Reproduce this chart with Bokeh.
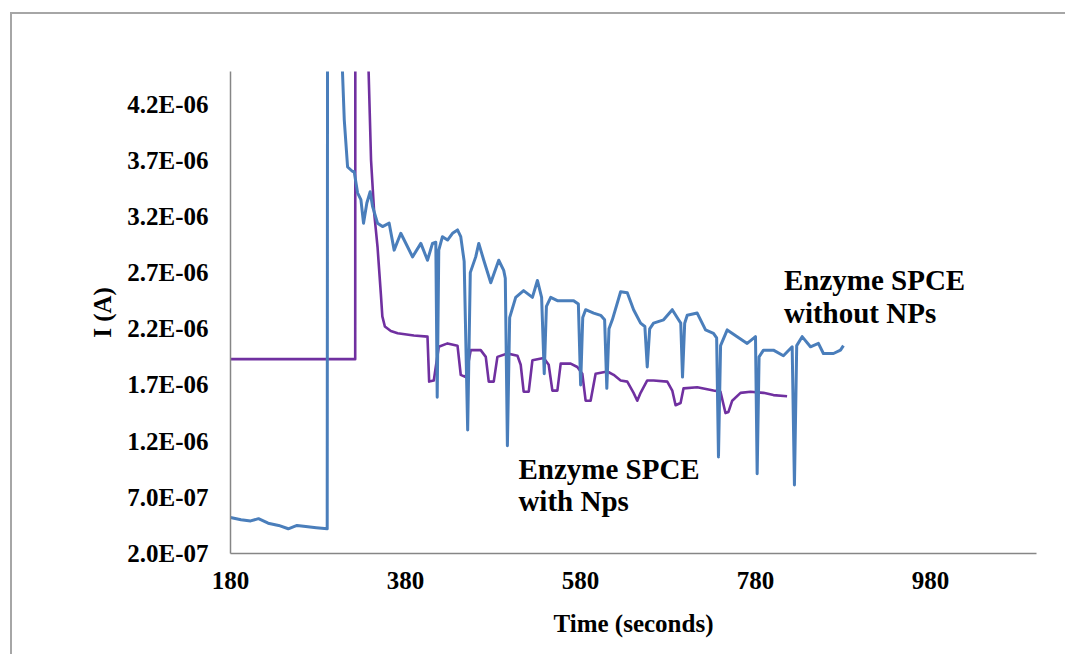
from bokeh.plotting import figure
from bokeh.models import FixedTicker, CustomJSTickFormatter, Range1d, Label
from bokeh.embed import file_html
from bokeh.resources import INLINE

# Amperometric response, enzyme SPCE without nanoparticles (time in s, current in µA)
t_without_nps = [180, 192, 203, 212, 223, 235, 246, 256, 266, 278, 290.5, 291, 305.5,
                 310, 313.8, 319.5, 321.3, 325.2, 329, 332, 335.8, 339.6, 342.3, 348,
                 353.7, 361.3, 367, 374.6, 382.3, 388, 397.5, 405.1, 410.8, 414.6, 416.2,
                 418, 422.2, 428, 433.7, 439.4, 443.1, 447, 451, 454, 460.2, 463.7, 469.4,
                 477.4, 486.5, 492.2, 494, 496.4, 499, 505.9, 514.9, 525, 530.7, 535.5,
                 538.5, 541, 545.9, 553.5, 560.7, 572.1, 577.5, 580.1, 582.5, 585.8, 595,
                 603, 607.5, 610, 612.5, 616.3, 625.8, 633.4, 640.6, 648.6, 653.5, 656.2,
                 659, 663.4, 674.9, 684.8, 692, 694.5, 696.5, 699, 701.9, 713.3, 722.8,
                 731.9, 735.5, 737.6, 740, 747.6, 759, 770.4, 779.9, 781.8, 784, 789,
                 800.4, 811.8, 821.8, 824.4, 827, 833.2, 842.7, 851.8, 857.5, 869, 877,
                 880.4]
i_without_nps_ua = [0.52, 0.50, 0.49, 0.51, 0.47, 0.45, 0.42, 0.45, 0.44, 0.43, 0.42, 6.0, 5.0,
                    4.06, 3.64, 3.60, 3.60, 3.41, 3.35, 3.14, 3.32, 3.42, 3.29, 3.14,
                    3.11, 3.14, 2.90, 3.05, 2.93, 2.84, 2.96, 2.81, 2.96, 2.97, 1.59,
                    2.90, 3.02, 2.99, 3.05, 3.08, 3.02, 2.80, 1.30, 2.70, 2.84, 2.96, 2.81,
                    2.61, 2.81, 2.72, 2.65, 1.16, 2.30, 2.48, 2.54, 2.48, 2.63, 2.48,
                    1.80, 2.40, 2.48, 2.45, 2.45, 2.45, 2.42, 1.70, 2.30, 2.37, 2.34,
                    2.32, 2.28, 1.67, 2.20, 2.28, 2.53, 2.52, 2.37, 2.25, 2.22, 1.86,
                    2.20, 2.25, 2.28, 2.37, 2.28, 2.25, 1.77, 2.25, 2.32, 2.34, 2.19,
                    2.16, 2.12, 1.06, 2.05, 2.19, 2.13, 2.07, 2.13, 0.91, 1.95, 2.01,
                    2.01, 1.96, 2.04, 0.81, 2.05, 2.13, 2.04, 2.07, 1.98, 1.98, 2.01,
                    2.05]

# Amperometric response, enzyme SPCE with nanoparticles (time in s, current in µA)
t_with_nps = [180, 322.5, 322.7, 336, 340.6, 344.2, 348, 351.8, 353.5, 356.4, 363.2, 371,
              389.5, 405.1, 407, 412.3, 418, 428, 439.4, 443.1, 448.8, 454.5, 465.9,
              471.7, 475.1, 480.8, 485, 496.4, 507.9, 511.6, 515, 520.8, 525, 537.9,
              543.6, 547.8, 553.5, 557.3, 568.7, 576.3, 582, 585.8, 591.5, 597.2, 610.6,
              617.8, 625.8, 633.4, 640.6, 644.8, 648.6, 656.2, 663.4, 679.1, 684.8,
              688.6, 694.3, 697.7, 713.3, 731.9, 739.9, 745.6, 749, 753.3, 762.8,
              774.2, 789, 800.4, 816]
i_with_nps_ua = [1.93, 1.93, 6.0, 5.0, 3.70, 3.23, 2.93, 2.51, 2.31, 2.22, 2.18, 2.16,
                 2.14, 2.13, 1.73, 1.74, 2.04, 2.07, 2.05, 1.79, 1.77, 2.01, 2.01,
                 1.95, 1.73, 1.73, 1.95, 1.98, 1.96, 1.88, 1.64, 1.64, 1.92, 1.94,
                 1.88, 1.65, 1.65, 1.89, 1.89, 1.86, 1.80, 1.56, 1.56, 1.80, 1.82,
                 1.79, 1.74, 1.73, 1.63, 1.56, 1.63, 1.74, 1.74, 1.73, 1.65,
                 1.52, 1.54, 1.67, 1.68, 1.65, 1.64, 1.45, 1.46, 1.56, 1.63,
                 1.64, 1.63, 1.61, 1.60]

x_ticks = [180, 380, 580, 780, 980]
y_ticks = [2.0e-7, 7.0e-7, 1.2e-6, 1.7e-6, 2.2e-6, 2.7e-6, 3.2e-6, 3.7e-6, 4.2e-6]

FONT = "Liberation Serif"
BLUE = "#4a7ebb"
PURPLE = "#7030a0"
AXIS_GREY = "#868686"
FRAME_GREY = "#a6a6a6"

# transparent canvas over a white page element that carries the grey picture
# frame (top and left edges) as two thin background strips
p = figure(width=1065, height=654, output_backend="svg", toolbar_location=None,
           x_range=Range1d(180, 1101), y_range=Range1d(2.0e-7, 4.49e-6),
           min_border_left=230, min_border_right=29, min_border_top=71,
           min_border_bottom=101, background_fill_color=None,
           border_fill_color=None)
p.styles = {
    "background-color": "white",
    "background-image": f"linear-gradient({FRAME_GREY}, {FRAME_GREY}), "
                        f"linear-gradient({FRAME_GREY}, {FRAME_GREY})",
    "background-position": "10px 12px, 10px 12px",
    "background-size": "1060px 2px, 2px 650px",
    "background-repeat": "no-repeat",
}

p.xgrid.visible = False
p.ygrid.visible = False
p.outline_line_color = None

p.line(t_with_nps, [v * 1e-6 for v in i_with_nps_ua], line_color=PURPLE,
       line_width=2.6, line_join="round")
p.line(t_without_nps, [v * 1e-6 for v in i_without_nps_ua], line_color=BLUE,
       line_width=3, line_join="round")

for ax in (p.xaxis[0], p.yaxis[0]):
    ax.axis_line_color = AXIS_GREY
    ax.axis_line_width = 1.5
    ax.major_tick_line_color = None
    ax.minor_tick_line_color = None
    ax.major_tick_out = 0
    ax.major_tick_in = 0
    ax.minor_tick_out = 0
    ax.minor_tick_in = 0
    ax.major_label_text_font = FONT
    ax.major_label_text_font_style = "bold"
    ax.major_label_text_font_size = "25px"
    ax.major_label_text_color = "black"
    ax.axis_label_text_font = FONT
    ax.axis_label_text_font_style = "bold"
    ax.axis_label_text_font_size = "25px"
    ax.axis_label_text_color = "black"

p.xaxis.ticker = FixedTicker(ticks=x_ticks)
p.yaxis.ticker = FixedTicker(ticks=y_ticks)
p.yaxis.formatter = CustomJSTickFormatter(code="""
    const s = tick.toExponential(1).toUpperCase();
    const parts = s.split("E");
    let e = parseInt(parts[1]);
    const sign = e < 0 ? "-" : "+";
    e = Math.abs(e);
    return parts[0] + "E" + sign + (e < 10 ? "0" : "") + e;
""")
p.xaxis.major_label_standoff = 18
p.yaxis.major_label_standoff = 22
p.xaxis.axis_label = "Time (seconds)"
p.yaxis.axis_label = "I (A)"
p.xaxis.axis_label_standoff = 18
p.yaxis.axis_label_standoff = 8

label_style = dict(text_font=FONT, text_font_style="bold", text_font_size="29px",
                   text_color="black", text_baseline="alphabetic", text_align="left")
p.add_layout(Label(x=812.4, y=2.633e-6, text="Enzyme SPCE", **label_style))
p.add_layout(Label(x=812.4, y=2.339e-6, text="without NPs", **label_style))
p.add_layout(Label(x=509, y=0.949e-6, text="Enzyme SPCE", **label_style))
p.add_layout(Label(x=509, y=0.664e-6, text="with Nps", **label_style))

open("out.html", "w").write(file_html(p, INLINE))
